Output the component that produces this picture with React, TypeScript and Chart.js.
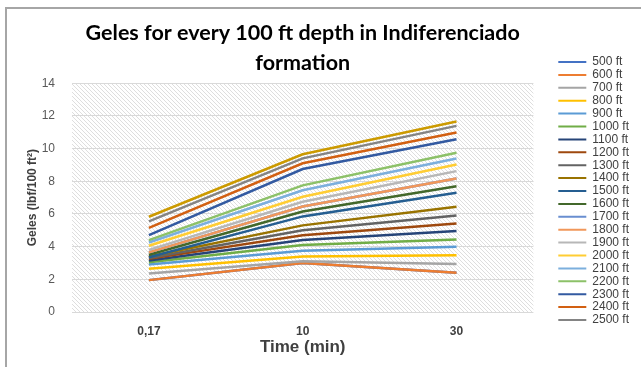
import React, { useEffect, useRef } from 'react';
import { Chart, registerables } from 'chart.js';

Chart.register(...registerables);
Chart.defaults.font.family = '"Liberation Sans", Arial, sans-serif';

const timeLabels = ['0,17', '10', '30'];

const depthNames = [
  '500 ft', '600 ft', '700 ft', '800 ft', '900 ft', '1000 ft', '1100 ft', '1200 ft',
  '1300 ft', '1400 ft', '1500 ft', '1600 ft', '1700 ft', '1800 ft', '1900 ft', '2000 ft',
  '2100 ft', '2200 ft', '2300 ft', '2400 ft', '2500 ft', '2600 ft',
];

const seriesColors = [
  '#4472C4', '#ED7D31', '#A5A5A5', '#FFC000', '#5B9BD5', '#70AD47', '#264478', '#9E480E',
  '#636363', '#997300', '#255E91', '#43682B', '#698ED0', '#F1975A', '#B7B7B7', '#FFCD33',
  '#7CAFDD', '#8CC168', '#335AA1', '#D26012', '#848484', '#CC9A00',
];

// Gel values (lbf/100 ft²) at each time, one entry per depth
const gelAt017 = [
  1.95, 1.95, 2.35, 2.65, 2.9, 3.05, 3.15, 3.25, 3.3, 3.4, 3.35,
  3.5, 3.65, 3.65, 3.8, 4.05, 4.25, 4.4, 4.7, 5.15, 5.55, 5.83,
];
const gelAt10 = [
  3.0, 3.0, 3.1, 3.4, 3.75, 4.1, 4.4, 4.7, 5.0, 5.3, 5.85,
  6.15, 6.45, 6.45, 6.75, 7.05, 7.45, 7.75, 8.75, 9.1, 9.4, 9.65,
];
const gelAt30 = [
  2.4, 2.4, 2.93, 3.47, 3.99, 4.44, 4.95, 5.42, 5.91, 6.44, 7.29,
  7.7, 8.17, 8.17, 8.62, 9.03, 9.39, 9.74, 10.57, 10.98, 11.39, 11.66,
];

const yTicksMax = 14;
const yTickStep = 2;

const hatchPlugin = {
  id: 'hatchBackground',
  beforeDraw(chart: any) {
    const { ctx, chartArea: a } = chart;
    const tile = document.createElement('canvas');
    tile.width = 4;
    tile.height = 4;
    const t = tile.getContext('2d')!;
    t.fillStyle = '#ffffff';
    t.fillRect(0, 0, 4, 4);
    t.fillStyle = '#dedede';
    for (let i = 0; i < 4; i++) t.fillRect(i, i, 1, 1);
    const pat = ctx.createPattern(tile, 'repeat');
    ctx.save();
    ctx.fillStyle = pat;
    ctx.fillRect(a.left, a.top, a.right - a.left, a.bottom - a.top);
    ctx.restore();
  },
};

export default function App() {
  const ref = useRef<HTMLCanvasElement>(null);

  useEffect(() => {
    document.body.style.margin = '0';
    const datasets = depthNames.map((name, i) => ({
      label: name,
      data: [gelAt017[i], gelAt10[i], gelAt30[i]],
      borderColor: seriesColors[i],
      backgroundColor: seriesColors[i],
      borderWidth: 2.5,
      pointRadius: 0,
      tension: 0,
      fill: false,
      order: -i,
    }));
    const chart = new Chart(ref.current!, {
      type: 'line',
      data: { labels: timeLabels, datasets },
      plugins: [hatchPlugin],
      options: {
        responsive: false,
        animation: false,
        layout: { padding: { left: 0, top: 0, bottom: 0, right: 2 } },
        plugins: {
          tooltip: { enabled: false },
          title: {
            display: true,
            text: ['Geles for every 100 ft depth in Indiferenciado', 'formation'],
            fullSize: false,
            color: '#000000',
            font: { family: 'Lato', size: 21.5, weight: 'bold', lineHeight: 1.4 },
            padding: { top: 18, bottom: 5 },
          },
          legend: {
            position: 'right',
            align: 'start',
            reverse: true,
            title: {
              display: true,
              text: ' ',
              font: { size: 12, lineHeight: 1.2 },
              padding: { top: 40.7, bottom: 0 },
            },
            labels: {
              boxWidth: 28,
              boxHeight: 2,
              padding: 0.9,
              color: '#404040',
              font: { size: 12 },
              filter: (item: any) => item.datasetIndex !== 21,
              generateLabels: (c: any) =>
                Chart.defaults.plugins.legend.labels
                  .generateLabels(c)
                  .map((l: any) => ({ ...l, fillStyle: l.strokeStyle, lineWidth: 0 })),
            },
          },
        },
        scales: {
          x: {
            offset: true,
            grid: { display: false, offset: true },
            border: { display: false },
            ticks: {
              color: '#404040',
              padding: 4,
              font: { size: 12, weight: 'bold' },
            },
            title: {
              display: true,
              text: 'Time (min)',
              color: '#404040',
              font: { size: 17, weight: 'bold', lineHeight: 1.2 },
              padding: { top: 1, bottom: 9 },
            },
            afterFit: (s: any) => {
              s.height = 55;
            },
          },
          y: {
            min: 0,
            max: yTicksMax,
            grid: { color: '#d9d9d9', drawTicks: false },
            border: { display: false },
            ticks: {
              stepSize: yTickStep,
              padding: 17,
              color: '#595959',
              font: { size: 12 },
            },
            title: {
              display: true,
              text: 'Geles (lbf/100 ft²)',
              color: '#404040',
              font: { size: 12, weight: 'bold', lineHeight: 1.2 },
              padding: { top: 25.8, bottom: 0 },
            },
            afterFit: (s: any) => {
              s.width = 72;
            },
          },
          gap: {
            type: 'linear',
            position: 'right',
            display: true,
            grid: { display: false, drawTicks: false },
            border: { display: false },
            ticks: { display: false },
            afterFit: (s: any) => {
              s.width = 24;
            },
          },
        },
      } as any,
    });
    return () => chart.destroy();
  }, []);

  return (
    <div style={{ position: 'relative', width: 641, height: 367, overflow: 'hidden', background: '#fff' }}>
      <canvas ref={ref} width={641} height={367} style={{ display: 'block' }} />
      <div
        style={{
          position: 'absolute',
          left: 5,
          top: 7,
          width: 700,
          height: 400,
          border: '2px solid #a6a6a6',
          pointerEvents: 'none',
        }}
      />
    </div>
  );
}
